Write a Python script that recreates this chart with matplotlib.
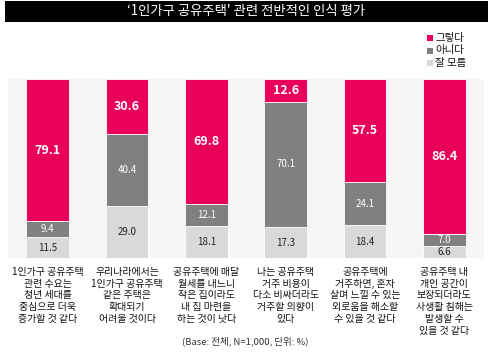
import matplotlib
matplotlib.use("Agg")
import matplotlib.pyplot as plt
from matplotlib.patches import Rectangle

plt.rcParams['font.family'] = ['Noto Sans CJK KR', 'DejaVu Sans']

categories = [
    "1인가구 공유주택\n관련 수요는\n청년 세대를\n중심으로 더욱\n증가할 것 같다",
    "우리나라에서는\n1인가구 공유주택\n같은 주택은\n확대되기\n어려울 것이다",
    "공유주택에 매달\n월세를 내느니\n작은 집이라도\n내 집 마련을\n하는 것이 낫다",
    "나는 공유주택\n거주 비용이\n다소 비싸더라도\n거주할 의향이\n있다",
    "공유주택에\n거주하면, 혼자\n살며 느낄 수 있는\n외로움을 해소할\n수 있을 것 같다",
    "공유주택 내\n개인 공간이\n보장되더라도\n사생활 침해는\n발생할 수\n있을 것 같다",
]
agree = [79.1, 30.6, 69.8, 12.6, 57.5, 86.4]
disagree = [9.4, 40.4, 12.1, 70.1, 24.1, 7.0]
unknown = [11.5, 29.0, 18.1, 17.3, 18.4, 6.6]
series_names = ["그렇다", "아니다", "잘 모름"]

c_agree = "#e8005a"
c_dis = "#808080"
c_unk = "#d9d9d9"

fig = plt.figure(figsize=(4.94, 3.55), dpi=100)
ax = fig.add_axes([8/494, (355-258)/355, 476/494, (258-79)/355])
ax.set_facecolor("#f6f6f6")

x = list(range(len(categories)))
w = 0.54
ax.bar(x, unknown, w, color=c_unk, edgecolor="white", linewidth=0.6, label=series_names[2])
ax.bar(x, disagree, w, bottom=unknown, color=c_dis, edgecolor="white", linewidth=0.6, label=series_names[1])
bottoms2 = [u + d for u, d in zip(unknown, disagree)]
ax.bar(x, agree, w, bottom=bottoms2, color=c_agree, edgecolor="white", linewidth=0.6, label=series_names[0])

for i in x:
    ax.text(i, unknown[i] / 2, f"{unknown[i]:.1f}", ha="center", va="center", fontsize=7, color="#222222")
    ax.text(i, unknown[i] + disagree[i] / 2, f"{disagree[i]:.1f}", ha="center", va="center", fontsize=7, color="white")
    ax.text(i, bottoms2[i] + agree[i] / 2, f"{agree[i]:.1f}", ha="center", va="center", fontsize=9, color="white", fontweight="bold")

ax.set_xlim(-0.5, 5.5)
ax.set_ylim(0, 100.2)
ax.set_xticks([])
ax.set_yticks([])
for s in ax.spines.values():
    s.set_visible(False)

for i, cat in enumerate(categories):
    ax.text(i, -5.0, cat, ha="center", va="top", fontsize=7.2, color="#111111", linespacing=1.22)

# Title box
fig.patches.append(Rectangle((5/494, (355-22)/355), 483/494, 21/355, transform=fig.transFigure,
                             facecolor="black", edgecolor="none"))
fig.text(246/494, (355-11.5)/355, "‘1인가구 공유주택' 관련 전반적인 인식 평가", ha="center", va="center",
         color="white", fontsize=9.6)

# Legend
legend_colors = [c_agree, c_dis, c_unk]
for k, (name, col) in enumerate(zip(series_names, legend_colors)):
    yy = (355 - (38 + k * 12.5)) / 355
    fig.patches.append(Rectangle((427/494, yy - 3/355), 6/494, 6/355, transform=fig.transFigure,
                                 facecolor=col, edgecolor="none"))
    fig.text(435/494, yy, name, ha="left", va="center", fontsize=7.5, color="#111111")

fig.text(245/494, (355-341)/355, "(Base: 전체, N=1,000, 단위: %)", ha="center", va="center",
         fontsize=6.8, color="#333333")

fig.savefig("out.png", dpi=100, facecolor="white")
